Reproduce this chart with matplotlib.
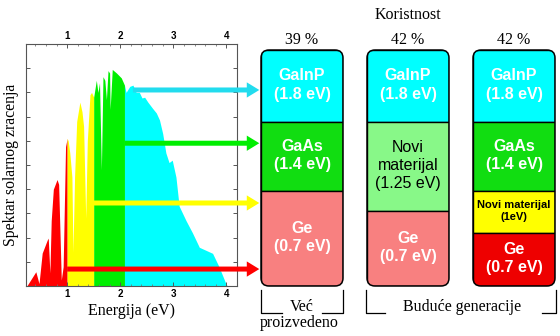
import numpy as np
import matplotlib
matplotlib.use("Agg")
import matplotlib.pyplot as plt
from matplotlib.patches import FancyBboxPatch, Rectangle

# ----------------------------------------------------------------------
# Solar spectrum (energy in eV, relative intensity), split in colour bands
# ----------------------------------------------------------------------
E_RED = [0.24, 0.41, 0.47, 0.53, 0.625, 0.644, 0.675, 0.70, 0.74, 0.81, 0.84,
         0.89, 0.925, 0.97, 1.0]
I_RED = [0.0, 0.059, 0.01, 0.136, 0.19, 0.198, 0.054, 0.27, 0.40, 0.44, 0.42,
         0.025, 0.08, 0.576, 0.61]
E_YEL = [1.0, 1.02, 1.05, 1.09, 1.11, 1.14, 1.18, 1.24, 1.28, 1.31, 1.35,
         1.38, 1.43, 1.46, 1.50]
I_YEL = [0.61, 0.60, 0.55, 0.45, 0.14, 0.45, 0.68, 0.76, 0.72, 0.66, 0.28,
         0.60, 0.79, 0.80, 0.78]
E_GRN = [1.50, 1.55, 1.58, 1.61, 1.645, 1.675, 1.71, 1.74, 1.77, 1.80, 1.81,
         1.85, 1.93, 2.02, 2.08]
I_GRN = [0.78, 0.85, 0.80, 0.84, 0.48, 0.865, 0.85, 0.77, 0.89, 0.88, 0.73,
         0.895, 0.88, 0.86, 0.83]
E_CYN = [2.08, 2.11, 2.18, 2.24, 2.30, 2.36, 2.41, 2.46, 2.52, 2.61, 2.68,
         2.74, 2.80, 2.86, 2.92, 2.98, 3.05, 3.11, 3.24, 3.36, 3.49, 3.74,
         3.86, 3.99, 4.02]
I_CYN = [0.83, 0.80, 0.825, 0.83, 0.80, 0.80, 0.777, 0.78, 0.76, 0.734, 0.715,
         0.686, 0.63, 0.55, 0.51, 0.52, 0.45, 0.33, 0.27, 0.22, 0.16, 0.135,
         0.08, 0.01, 0.0]
BAND_COLORS = ["#ff0000", "#ffff00", "#00ee00", "#00ffff"]

# arrows: start energy, height, colour (top cell first)
ARROW_START = [2.24, 2.08, 1.50, 1.00]
ARROW_Y = [0.81, 0.59, 0.343, 0.07]
ARROW_COLORS = ["#22dcee", "#00ee00", "#ffff00", "#ff0000"]
ARROW_END = 4.62

# ----------------------------------------------------------------------
# Tandem cells
# ----------------------------------------------------------------------
EFFICIENCY = ["39 %", "42 %", "42 %"]
CELL_LABELS = [
    ["GaInP\n(1.8 eV)", "GaAs\n(1.4 eV)", "Ge\n(0.7 eV)"],
    ["GaInP\n(1.8 eV)", "Novi\nmaterijal\n(1.25 eV)", "Ge\n(0.7 eV)"],
    ["GaInP\n(1.8 eV)", "GaAs\n(1.4 eV)", "Novi materijal\n(1eV)", "Ge\n(0.7 eV)"],
]
CELL_COLORS = [
    ["#00ffff", "#11dd11", "#f88080"],
    ["#00ffff", "#88f888", "#f88080"],
    ["#00ffff", "#11dd11", "#ffff00", "#ee0000"],
]
TEXT_COLORS = [
    ["white", "white", "white"],
    ["white", "black", "white"],
    ["white", "white", "black", "white"],
]

# layout in pixels (figure is 560 x 336)
BOX_X = [261, 367, 473]
BOX_W = 82
BOX_TOP, BOX_BOT = 50, 286
LAYER_EDGES = [
    [50, 122, 191, 286],
    [50, 122, 211, 286],
    [50, 122, 191, 233, 286],
]

plt.rcParams["font.family"] = ["Liberation Serif", "DejaVu Serif"]

fig = plt.figure(figsize=(5.6, 3.36), dpi=100)
ax = fig.add_axes([26 / 560, 50 / 336, 211 / 560, 242 / 336])

for E, I, c in zip([E_RED, E_YEL, E_GRN, E_CYN], [I_RED, I_YEL, I_GRN, I_CYN],
                   BAND_COLORS):
    ax.fill_between(E, 0, I, color=c, lw=0, zorder=1)

ax.set_xlim(0.225, 4.2)
ax.set_ylim(0, 1)
ax.set_xticks([1, 2, 3, 4])
ax.set_xticks(np.arange(0.4, 4.2, 0.2), minor=True)
ax.set_yticks(np.arange(0.1, 1.0, 0.1))
ax.set_yticklabels([])
ax.tick_params(direction="in", top=True, right=True, labeltop=True,
               length=3, width=0.7, color="#555555", pad=2)
ax.tick_params(which="minor", direction="in", top=True, right=True,
               length=1.5, width=0.6, color="#777777")
for t in ax.xaxis.get_major_ticks():
    t.label1.set(family="Liberation Sans", weight="bold", fontsize=7)
    t.label2.set(family="Liberation Sans", weight="bold", fontsize=7)
for s in ax.spines.values():
    s.set_color("#555555")
    s.set_linewidth(0.8)
ax.set_xlabel("Energija (eV)", fontsize=11.5, labelpad=3)
ax.set_ylabel("Spektar solarnog zracenja", fontsize=11.3, labelpad=3)

for x0, y, c in zip(ARROW_START, ARROW_Y, ARROW_COLORS):
    ax.annotate("", xy=(ARROW_END, y), xytext=(x0, y),
                arrowprops=dict(arrowstyle="simple,head_length=0.9,head_width=1.1,tail_width=0.36",
                                mutation_scale=10, fc=c, ec=c, lw=0,
                                shrinkA=0, shrinkB=0),
                annotation_clip=False, zorder=5)

# overlay in pixel coordinates for the cells
ov = fig.add_axes([0, 0, 1, 1])
ov.set_xlim(0, 560)
ov.set_ylim(336, 0)
ov.axis("off")
ov.patch.set_alpha(0)

for k in range(3):
    x0 = BOX_X[k]
    box = FancyBboxPatch((x0, BOX_TOP), BOX_W, BOX_BOT - BOX_TOP,
                         boxstyle="round,pad=0,rounding_size=8",
                         fc="none", ec="none")
    ov.add_patch(box)
    edges = LAYER_EDGES[k]
    for j, (lab, col, tc) in enumerate(zip(CELL_LABELS[k], CELL_COLORS[k],
                                           TEXT_COLORS[k])):
        r = Rectangle((x0, edges[j]), BOX_W, edges[j + 1] - edges[j],
                      fc=col, ec="black", lw=1)
        ov.add_patch(r)
        r.set_clip_path(box)
        small = lab.startswith("Novi materijal")
        bold = tc == "white" or small
        ov.text(x0 + BOX_W / 2, (edges[j] + edges[j + 1]) / 2 - 1, lab,
                ha="center", va="center", multialignment="center",
                color=tc, family="Liberation Sans",
                fontsize=8 if small else 11.5,
                weight="bold" if bold else "normal",
                linespacing=1.25)
    ov.add_patch(FancyBboxPatch((x0, BOX_TOP), BOX_W, BOX_BOT - BOX_TOP,
                                boxstyle="round,pad=0,rounding_size=8",
                                fc="none", ec="black", lw=1.1))
    ov.text(x0 + BOX_W / 2, 40, EFFICIENCY[k], ha="center", va="center",
            fontsize=11.5)

ov.text(BOX_X[1] + BOX_W / 2, 15, "Koristnost", ha="center", va="center",
        fontsize=11.5)


# brackets under the cells
def bracket(xa, xb, gap_a, gap_b):
    ov.plot([xa, xa, gap_a], [290, 313, 313], color="black", lw=0.9)
    ov.plot([gap_b, xb, xb], [313, 313, 290], color="black", lw=0.9)


bracket(261, 343, 282, 322)
ov.text(302, 307, "Već", ha="center", va="center", fontsize=11.5)
ov.text(299, 323, "proizvedeno", ha="center", va="center", fontsize=11.5)
bracket(366, 556, 385, 542)
ov.text(462, 307, "Buduće generacije", ha="center", va="center", fontsize=11.5)

fig.savefig("out.png", dpi=100)
